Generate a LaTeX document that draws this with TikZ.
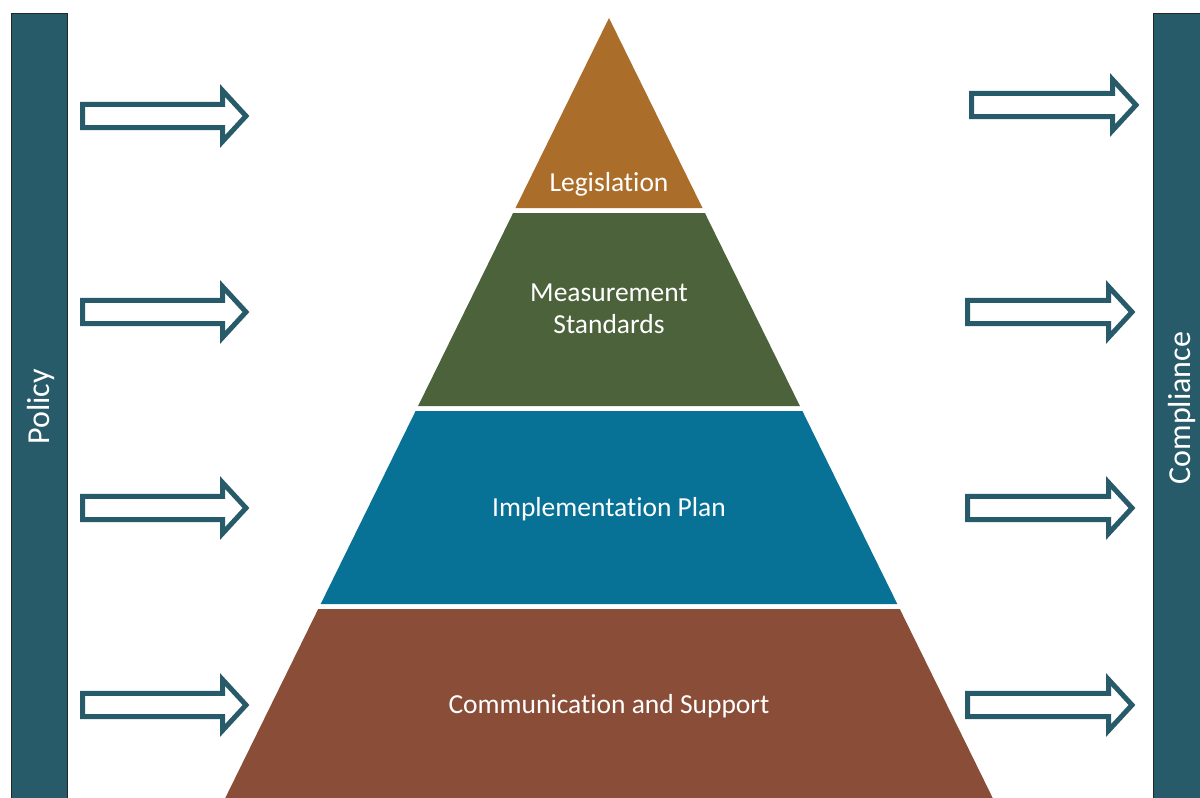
\documentclass[tikz,border=0pt]{standalone}
\usepackage{fontspec}
\setmainfont{Carlito}[Ligatures=CommonOff]
\definecolor{barteal}{HTML}{285B69}
\definecolor{legis}{HTML}{AB6D2A}
\definecolor{measure}{HTML}{4C623A}
\definecolor{implem}{HTML}{087196}
\definecolor{commun}{HTML}{8A4D37}
\tikzset{
  sidebar/.style={fill=barteal, draw=black!85, line width=0.9pt},
  outlinearrow/.style={draw=barteal, fill=white, line width=5pt, line join=miter},
  layertext/.style={text=white, font=\fontsize{27.5}{32}\selectfont, align=center, inner sep=0pt},
  bartext/.style={text=white, font=\fontsize{32}{38}\selectfont, inner sep=0pt, rotate=90},
}
% #1 left x, #2 head base x, #3 tip x, #4 center y
\newcommand\blockarrow[4]{%
  \draw[outlinearrow] (#1,#4-11.7) -- (#2,#4-11.7) -- (#2,#4-25.5) -- (#3,#4)
    -- (#2,#4+25.5) -- (#2,#4+11.7) -- (#1,#4+11.7) -- cycle;}
\begin{document}
\begin{tikzpicture}[x=1pt,y=-1pt]
\useasboundingbox (0,0) rectangle (1200,798);
\fill[white] (0,0) rectangle (1200,798);
% side bars
\draw[sidebar] (11,13) rectangle (67,805);
\draw[sidebar] (1153,13) rectangle (1215,805);
\node[bartext] (policy) at (41,407) {Policy};
\node[bartext] (compliance) at (1182,408) {Compliance};
% pyramid layers
\fill[legis] (609,18) -- (702.5,208) -- (515.5,208) -- cycle;
\fill[measure] (513.1,213) -- (704.9,213) -- (799.9,406) -- (418.1,406) -- cycle;
\fill[implem] (415.6,411) -- (802.4,411) -- (897.3,604) -- (320.7,604) -- cycle;
\fill[commun] (318.2,609) -- (899.8,609) -- (993.7,800) -- (224.3,800) -- cycle;
\node[layertext] (legislation) at (609,184) {Legislation};
\node[layertext] (measurement) at (609,308.5) {Measurement\\Standards};
\node[layertext] (implementation) at (609,509) {Implementation Plan};
\node[layertext] (communication) at (609,706) {Communication and Support};
% left arrows
\blockarrow{82.5}{222.5}{246}{116}
\blockarrow{82.5}{222.5}{246}{312}
\blockarrow{82.5}{222.5}{246}{508}
\blockarrow{82.5}{222.5}{246}{705}
% right arrows
\blockarrow{971.5}{1112.5}{1136}{105}
\blockarrow{967.5}{1108.5}{1132}{312}
\blockarrow{967.5}{1108.5}{1132}{508}
\blockarrow{967.5}{1108.5}{1132}{705}
\end{tikzpicture}
\end{document}
